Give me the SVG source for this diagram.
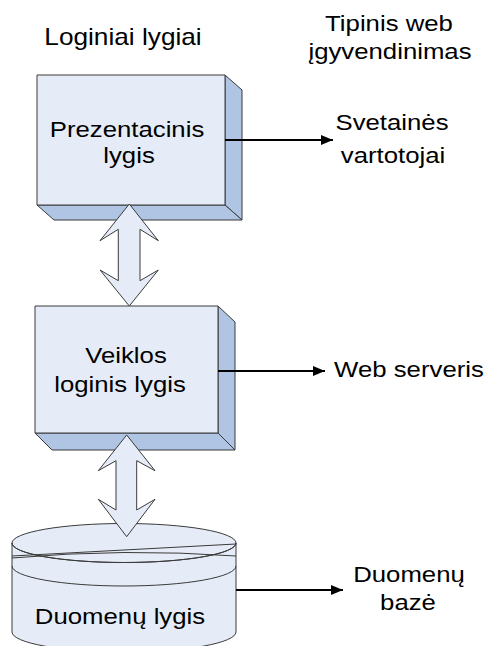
<svg xmlns="http://www.w3.org/2000/svg" width="489" height="646" viewBox="0 0 489 646">
  <style>
    .face { fill: #E6ECF7; stroke: #3a3a3a; stroke-width: 1; stroke-linejoin: round; }
    .side { fill: #B0C4E4; stroke: #3a3a3a; stroke-width: 1; stroke-linejoin: round; }
    .ln { fill: none; stroke: #3a3a3a; stroke-width: 1; }
    .conn { fill: none; stroke: #000; stroke-width: 2; }
    text { font-family: "Liberation Sans", Arial, sans-serif; font-size: 23px; fill: #000; text-anchor: middle; }
  </style>
  <defs>
    <marker id="head" viewBox="0 0 12 10" refX="12" refY="5" markerWidth="12" markerHeight="10" markerUnits="userSpaceOnUse" orient="auto">
      <path d="M0,0 L12,5 L0,10 Z" fill="#000"/>
    </marker>
  </defs>

  <!-- column headings -->
  <g id="heading-logical">
    <text transform="translate(123,45) scale(1.14,1)">Loginiai lygiai</text>
  </g>
  <g id="heading-web">
    <text transform="translate(389,31) scale(1.12,1)">Tipinis web</text>
    <text transform="translate(390,59) scale(1.12,1)">įgyvendinimas</text>
  </g>

  <!-- presentation tier -->
  <g id="presentation">
    <polygon class="side" points="225,75 242,90 242,220 225,205"/>
    <polygon class="side" points="37,205 225,205 242,220 54,220"/>
    <rect class="face" x="37" y="75" width="188" height="130"/>
    <text transform="translate(127,137) scale(1.12,1)">Prezentacinis</text>
    <text transform="translate(129,163) scale(1.12,1)">lygis</text>
  </g>

  <!-- business logic tier -->
  <g id="business">
    <polygon class="side" points="218,306 235,322 235,450 218,433"/>
    <polygon class="side" points="35,433 218,433 235,450 52,450"/>
    <rect class="face" x="35" y="306" width="183" height="127"/>
    <text transform="translate(126,363) scale(1.12,1)">Veiklos</text>
    <text transform="translate(120,392) scale(1.12,1)">loginis lygis</text>
  </g>

  <!-- data tier -->
  <g id="data">
    <path class="face" d="M12,543 L12,632 A112,20 0 0 0 236,632 L236,543 Z"/>
    <ellipse class="face" cx="124" cy="543" rx="112" ry="19.5"/>
    <path class="ln" d="M12,543 A112,19.5 0 0 0 236,543"/>
    <path class="ln" d="M12,556 L236,544"/>
    <path class="ln" d="M12,558 Q124,548 236,556"/>
    <path class="ln" d="M12,566 A112,20 0 0 0 236,566"/>
    <text transform="translate(120,624) scale(1.12,1)">Duomenų lygis</text>
  </g>

  <!-- right-hand labels -->
  <g id="label-users">
    <text transform="translate(392,130) scale(1.12,1)">Svetainės</text>
    <text transform="translate(393,163) scale(1.12,1)">vartotojai</text>
  </g>
  <g id="label-webserver">
    <text transform="translate(409,377) scale(1.12,1)">Web serveris</text>
  </g>
  <g id="label-database">
    <text transform="translate(409,582) scale(1.12,1)">Duomenų</text>
    <text transform="translate(408,610) scale(1.12,1)">bazė</text>
  </g>

  <g id="connectors">
    <!-- two-way block arrows between tiers -->
    <polygon class="face" points="129.3,204 158.3,240.7 140,229.3 140,280.7 158.3,270 129.3,306 100,270 118.3,280.7 118.3,229.3 100,240.7"/>
    <polygon class="face" points="126.7,435 155,470.7 136.7,460.7 136.7,510 155,499.3 126.7,536.7 98.3,499.3 116,510 116,460.7 98.3,470.7"/>
    <!-- mapping arrows to implementation -->
    <line class="conn" x1="225" y1="140" x2="333" y2="140" marker-end="url(#head)"/>
    <line class="conn" x1="218" y1="371" x2="325" y2="371" marker-end="url(#head)"/>
    <line class="conn" x1="236" y1="590" x2="343" y2="590" marker-end="url(#head)"/>
  </g>
</svg>
